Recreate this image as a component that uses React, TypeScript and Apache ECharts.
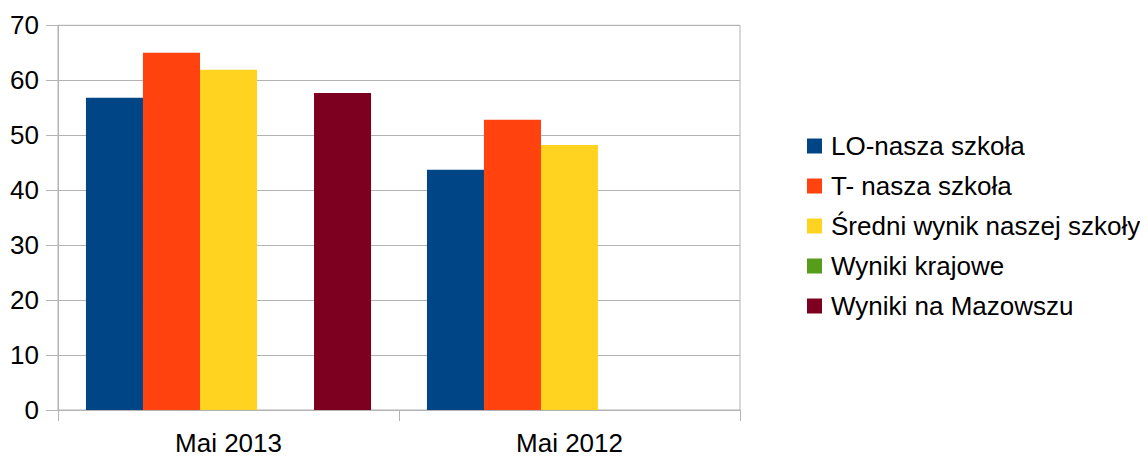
import React, { useEffect, useRef } from "react";
import * as echarts from "echarts";

const categories = ["Maj 2013", "Maj 2012"];
const seriesNames = [
  "LO-nasza szkoła",
  "T- nasza szkoła",
  "Średni wynik naszej szkoły",
  "Wyniki krajowe",
  "Wyniki na Mazowszu",
];
const loValues = [56.8, 43.7];
const tValues = [65.0, 52.8];
const avgValues = [61.9, 48.2];
const krajValues: (number | null)[] = [null, null];
const mazValues: (number | null)[] = [57.7, null];
const colors = ["#004586", "#ff420e", "#ffd320", "#579d1c", "#7e0021"];
const yTicks = [0, 10, 20, 30, 40, 50, 60, 70];

export default function App() {
  const ref = useRef<HTMLDivElement>(null);
  useEffect(() => {
    if (!ref.current) return;
    const chart = echarts.init(ref.current, null, { renderer: "svg" });
    const allValues = [loValues, tValues, avgValues, krajValues, mazValues];
    const font = "'Liberation Sans', Arial, sans-serif";
    chart.setOption({
      animation: false,
      textStyle: { fontFamily: font },
      grid: {
        left: 58,
        right: 408,
        top: 25.3,
        bottom: 50,
        show: true,
        borderColor: "#b3b3b3",
        borderWidth: 1,
      },
      legend: {
        orient: "vertical",
        left: 807,
        top: 133,
        padding: 0,
        itemWidth: 15,
        itemHeight: 15,
        itemGap: 14,
        icon: "rect",
        textStyle: {
          fontFamily: font,
          fontSize: 26,
          lineHeight: 26,
          color: "#000",
          padding: [0, 0, 0, 4],
        },
        data: seriesNames,
      },
      xAxis: {
        type: "category",
        data: categories,
        axisLine: { lineStyle: { color: "#b3b3b3" } },
        axisTick: { show: true, length: 11, lineStyle: { color: "#b3b3b3" } },
        axisLabel: { color: "#000", fontSize: 26, fontFamily: font, margin: 20 },
        splitLine: { show: false },
      },
      yAxis: {
        type: "value",
        min: yTicks[0],
        max: yTicks[yTicks.length - 1],
        interval: 10,
        axisLine: { show: true, lineStyle: { color: "#b3b3b3" } },
        axisTick: { show: true, length: 12, lineStyle: { color: "#b3b3b3" } },
        axisLabel: { color: "#000", fontSize: 26, fontFamily: font, margin: 19 },
        splitLine: { show: true, lineStyle: { color: "#b3b3b3" } },
      },
      series: seriesNames.map((name, i) => ({
        name,
        type: "bar",
        data: allValues[i],
        barGap: "0%",
        barCategoryGap: "16.4%",
        itemStyle: { color: colors[i] },
      })),
    });
    return () => chart.dispose();
  }, []);
  return <div ref={ref} style={{ width: 1148, height: 460, margin: -8 }} />;
}
